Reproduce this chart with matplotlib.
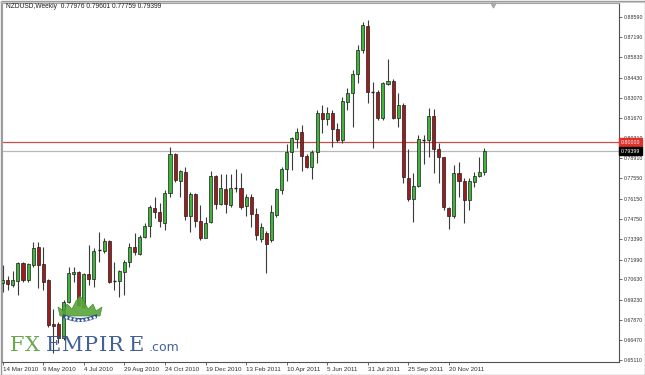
import matplotlib
matplotlib.use("Agg")
import matplotlib.pyplot as plt
from matplotlib import font_manager
from matplotlib.patches import Polygon, Rectangle
import matplotlib.transforms as mtransforms
import numpy as np

# weekly NZDUSD candles, first bar = 14 Mar 2010
opens = [0.7036, 0.7059, 0.7025, 0.7054, 0.7177, 0.7059, 0.7161, 0.7282, 0.7168, 0.7059,
         0.6755, 0.6758, 0.6659, 0.6910, 0.7098, 0.7111, 0.6876, 0.7100, 0.7066, 0.7262,
         0.7260, 0.7328, 0.7051, 0.7052, 0.7116, 0.7184, 0.7287, 0.7237, 0.7351, 0.7428,
         0.7554, 0.7527, 0.7447, 0.7652, 0.7919, 0.7739, 0.7800, 0.7497, 0.7647, 0.7463,
         0.7349, 0.7458, 0.7773, 0.7579, 0.7682, 0.7572, 0.7690, 0.7691, 0.7565, 0.7625,
         0.7508, 0.7337, 0.7383, 0.7333, 0.7504, 0.7675, 0.7819, 0.7933, 0.8022, 0.8070,
         0.7910, 0.7835, 0.7937, 0.8204, 0.8159, 0.8200, 0.8090, 0.8017, 0.8279, 0.8337,
         0.8469, 0.8633, 0.8797, 0.8346, 0.8348, 0.8165, 0.8400, 0.8423, 0.8165, 0.8257,
         0.7755, 0.7611, 0.7702, 0.8020, 0.8017, 0.8181, 0.7953, 0.7898, 0.7549, 0.7497,
         0.7793, 0.7739, 0.7606, 0.7732, 0.7773, 0.77976]
highs = [0.7161, 0.7086, 0.7123, 0.7184, 0.7184, 0.7173, 0.7321, 0.7317, 0.7287, 0.7063,
         0.6858, 0.6774, 0.6922, 0.7150, 0.7150, 0.7120, 0.7104, 0.7298, 0.7276, 0.7390,
         0.7344, 0.7333, 0.7184, 0.7127, 0.7196, 0.7314, 0.7378, 0.7367, 0.7447, 0.7572,
         0.7629, 0.7588, 0.7675, 0.7967, 0.7926, 0.7812, 0.7830, 0.7663, 0.7657, 0.7572,
         0.7492, 0.7807, 0.7778, 0.7784, 0.7784, 0.7784, 0.7816, 0.7789, 0.7647, 0.7647,
         0.7549, 0.7447, 0.7394, 0.7572, 0.7686, 0.7830, 0.7990, 0.8040, 0.8097, 0.8120,
         0.7921, 0.7949, 0.8222, 0.8257, 0.8245, 0.8222, 0.8131, 0.8314, 0.8371, 0.8496,
         0.8667, 0.8827, 0.8838, 0.8416, 0.8359, 0.8416, 0.8569, 0.8432, 0.8337, 0.8268,
         0.7953, 0.7789, 0.8051, 0.8051, 0.8234, 0.8227, 0.7994, 0.7903, 0.7561, 0.7846,
         0.7869, 0.7755, 0.7755, 0.7800, 0.7903, 0.79601]
lows = [0.6979, 0.6990, 0.7013, 0.6956, 0.7047, 0.7047, 0.7150, 0.7002, 0.6990, 0.6739,
        0.6559, 0.6630, 0.6648, 0.6899, 0.7047, 0.6881, 0.6865, 0.7025, 0.7013, 0.7184,
        0.7241, 0.7036, 0.6990, 0.6945, 0.6956, 0.7150, 0.7230, 0.7230, 0.7344, 0.7351,
        0.7481, 0.7424, 0.7401, 0.7629, 0.7732, 0.7629, 0.7469, 0.7390, 0.7424, 0.7333,
        0.7344, 0.7451, 0.7543, 0.7572, 0.7520, 0.7561, 0.7663, 0.7543, 0.7497, 0.7424,
        0.7333, 0.7321, 0.7104, 0.7321, 0.7492, 0.7647, 0.7739, 0.7812, 0.7960, 0.7805,
        0.7823, 0.7748, 0.7857, 0.8067, 0.8120, 0.7971, 0.8005, 0.7999, 0.8222, 0.8104,
        0.8405, 0.8610, 0.8268, 0.7960, 0.8154, 0.8154, 0.8394, 0.8159, 0.8108, 0.7720,
        0.7602, 0.7458, 0.7698, 0.7853, 0.7903, 0.7793, 0.7725, 0.7538, 0.7406, 0.7481,
        0.7629, 0.7451, 0.7538, 0.7698, 0.7766, 0.77759]
closes = [0.7059, 0.7031, 0.7059, 0.7177, 0.7059, 0.7168, 0.7276, 0.7161, 0.7047, 0.6751,
          0.6746, 0.6659, 0.6910, 0.7104, 0.7111, 0.6888, 0.7100, 0.7066, 0.7260, 0.7262,
          0.7328, 0.7043, 0.7051, 0.7123, 0.7184, 0.7282, 0.7253, 0.7351, 0.7428, 0.7556,
          0.7527, 0.7465, 0.7652, 0.7919, 0.7743, 0.7805, 0.7497, 0.7647, 0.7463, 0.7349,
          0.7451, 0.7773, 0.7579, 0.7686, 0.7579, 0.7686, 0.7690, 0.7561, 0.7629, 0.7508,
          0.7367, 0.7424, 0.7303, 0.7527, 0.7679, 0.7819, 0.7933, 0.8029, 0.8070, 0.7910,
          0.7835, 0.7937, 0.8204, 0.8159, 0.8200, 0.8090, 0.8017, 0.8286, 0.8337, 0.8469,
          0.8633, 0.8804, 0.8348, 0.8346, 0.8165, 0.8405, 0.8423, 0.8165, 0.8257, 0.7762,
          0.7611, 0.7702, 0.8022, 0.8020, 0.8181, 0.7953, 0.7898, 0.7556, 0.7497, 0.7793,
          0.7739, 0.7606, 0.7739, 0.7773, 0.77976, 0.79399]

date_labels = ["14 Mar 2010", "9 May 2010", "4 Jul 2010", "29 Aug 2010", "24 Oct 2010",
               "19 Dec 2010", "13 Feb 2011", "10 Apr 2011", "5 Jun 2011", "31 Jul 2011",
               "25 Sep 2011", "20 Nov 2011"]
date_idx = [0, 8, 16, 24, 32, 40, 48, 56, 64, 72, 80, 88]
price_ticks = [0.65110, 0.66470, 0.67870, 0.69230, 0.70630, 0.71990, 0.73390, 0.74750,
               0.76150, 0.77550, 0.78910, 0.80310, 0.81670, 0.83070, 0.84430, 0.85830,
               0.87190, 0.88590]
level_line = 0.80000
last_close = closes[-1]

names = {f.name for f in font_manager.fontManager.ttflist}
FONT = "Liberation Sans Narrow" if "Liberation Sans Narrow" in names else "Liberation Sans"
plt.rcParams["font.family"] = [FONT, "DejaVu Sans"]
YSIZE = 4.4 if FONT.endswith("Narrow") else 3.8

UP = "#3fb53a"
DOWN = "#9e1c1c"
BLUE = "#2d4f8e"
GREEN_LOGO = "#5a9e3a"

W, H = 645, 375
fig = plt.figure(figsize=(W / 100, H / 100), dpi=100)
fig.patch.set_facecolor("white")
ax = fig.add_axes([2 / W, 13 / H, 617 / W, 359 / H])

x = np.arange(len(opens))
o = np.array(opens); h = np.array(highs); l = np.array(lows); c = np.array(closes)
up = c > o
down = c < o
flat = c == o

ax.vlines(x, l, h, color="#3a3a3a", linewidth=0.8, zorder=2)
ax.bar(x[up], c[up] - o[up], bottom=o[up], width=0.6, color=UP,
       edgecolor="#1e1e1e", linewidth=0.5, zorder=3)
ax.bar(x[down], o[down] - c[down], bottom=c[down], width=0.6, color=DOWN,
       edgecolor="#1e1e1e", linewidth=0.5, zorder=3)
ax.hlines(o[flat], x[flat] - 0.3, x[flat] + 0.3, color="#1e1e1e", linewidth=1.0, zorder=3)

ax.axhline(level_line, color="#c8504a", linewidth=0.9, zorder=1)
ax.axhline(last_close, color="#b8b8b8", linewidth=0.9, zorder=1)

ax.set_xlim(-0.14, 121.56)
ax.set_ylim(0.64975, 0.89548)

ax.yaxis.tick_right()
ax.set_yticks(price_ticks)
ax.set_yticklabels([f"{v:.5f}" for v in price_ticks])
ax.set_xticks(date_idx)
ax.set_xticklabels(date_labels, ha="left")
ax.tick_params(axis="y", labelsize=YSIZE, length=2.5, width=0.6, pad=1.0,
               color="#505050", labelcolor="#303030")
ax.tick_params(axis="x", labelsize=4.5, length=2.5, width=0.6, pad=0.8,
               color="#505050", labelcolor="#303030")
for side in ["right", "bottom"]:
    ax.spines[side].set_color("#505050")
    ax.spines[side].set_linewidth(0.8)
for side in ["top", "left"]:
    ax.spines[side].set_color("#a0a0a0")
    ax.spines[side].set_linewidth(0.8)

# price boxes on the right scale
trans = mtransforms.blended_transform_factory(ax.transAxes, ax.transData)
ax.text(1.0 + 2 / 617, level_line, f"{level_line:.5f}", transform=trans, fontsize=YSIZE,
        color="white", va="center", ha="left", clip_on=False, zorder=6,
        bbox=dict(boxstyle="square,pad=0.3", facecolor="#e0302a", edgecolor="#e0302a"))
ax.text(1.0 + 2 / 617, last_close, f"{last_close:.5f}", transform=trans, fontsize=YSIZE,
        color="white", va="center", ha="left", clip_on=False, zorder=6,
        bbox=dict(boxstyle="square,pad=0.3", facecolor="black", edgecolor="black"))

fig.text(6 / W, 1 - 7 / H,
         "NZDUSD,Weekly  " + " ".join(f"{v:.5f}" for v in [opens[-1], highs[-1], lows[-1], closes[-1]]),
         fontsize=4.8, color="#202020", va="center", ha="left")

# overlay in pixel coordinates for frame and watermark logo
ov = fig.add_axes([0, 0, 1, 1], zorder=10)
ov.set_xlim(0, W)
ov.set_ylim(H, 0)
ov.axis("off")
ov.patch.set_alpha(0)
ov.add_patch(Rectangle((0.5, 0.5), W - 1, H - 1, fill=False, edgecolor="#9a9a9a", linewidth=1.0))
ov.plot([0, W], [2.2, 2.2], color="#c8c8c8", linewidth=0.8)
ov.plot([493], [4.5], marker="v", markersize=3.5, color="#a8a8a8", linestyle="none")

crown = Polygon([(60, 316), (58, 307), (64, 311), (67, 304), (72, 309), (76, 301), (80, 296),
                 (84, 301), (88, 309), (93, 304), (96, 311), (102, 307), (100, 316)],
                closed=True, facecolor="#5aa43a", edgecolor="#3f8a2a", linewidth=0.5, alpha=0.9)
ov.add_patch(crown)
t = np.linspace(0, 1, 30)
bx = 63 + 34 * t
top = 314 + 4 * np.sin(np.pi * t)
bot = 318 + 4 * np.sin(np.pi * t)
band = Polygon(np.column_stack([np.r_[bx, bx[::-1]], np.r_[top, bot[::-1]]]),
               closed=True, facecolor=BLUE, edgecolor="none", alpha=0.95)
ov.add_patch(band)
dx = 66 + 28 * np.linspace(0, 1, 8)
ov.plot(dx, 316 + 4 * np.sin(np.pi * (dx - 63) / 34), "o", markersize=0.9,
        color="white", linestyle="none")

# watermark letters, placed one by one as in the logo
logo_letters = ["F", "X", "E", "M", "P", "I", "R", "E"]
logo_x = [10, 25, 46, 62, 84, 99, 108, 129]
logo_col = [GREEN_LOGO, GREEN_LOGO] + [BLUE] * 6
for ch, lx, col in zip(logo_letters, logo_x, logo_col):
    ov.text(lx, 351, ch, fontsize=15, family="DejaVu Serif", color=col,
            va="baseline", ha="left", alpha=0.9)
ov.text(149, 351, ".com", fontsize=9, family="DejaVu Sans", color=BLUE,
        va="baseline", ha="left", alpha=0.9)

fig.savefig("out.png", dpi=100)
